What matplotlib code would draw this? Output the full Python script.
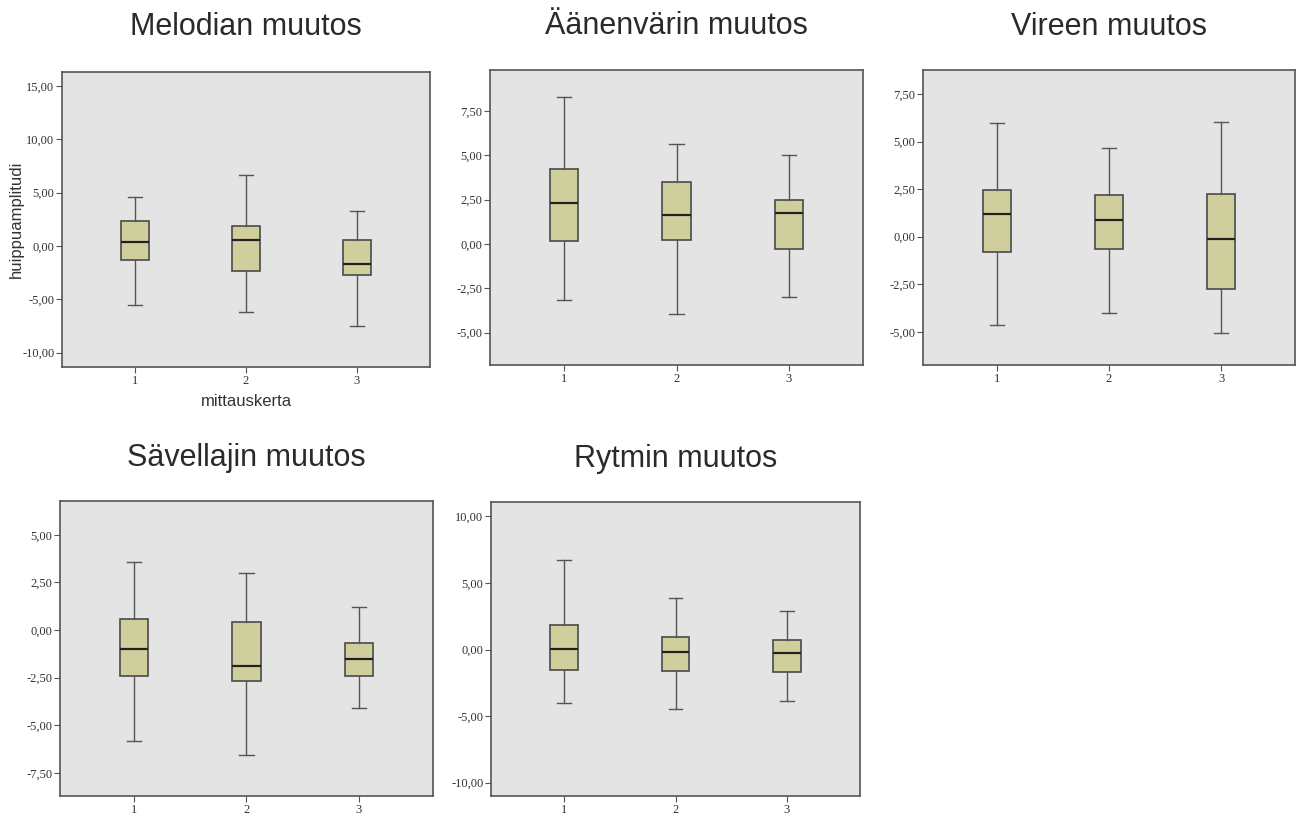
import matplotlib.pyplot as plt
from matplotlib.ticker import FuncFormatter

# Tunnusluvut luettu kuvasta: alaviiksi, Q1, mediaani, Q3, yläviiksi
titles = ["Melodian muutos", "Äänenvärin muutos", "Vireen muutos",
          "Sävellajin muutos", "Rytmin muutos"]
kerrat = [1, 2, 3]

melodia = [[-5.56, -1.34, 0.34, 2.38, 4.63],
           [-6.16, -2.34, 0.56, 1.88, 6.66],
           [-7.47, -2.75, -1.66, 0.53, 3.25]]
aanenvari = [[-3.16, 0.15, 2.33, 4.23, 8.31],
             [-3.97, 0.21, 1.64, 3.48, 5.62],
             [-2.99, -0.30, 1.73, 2.46, 5.00]]
vire = [[-4.64, -0.82, 1.21, 2.47, 5.97],
        [-4.03, -0.63, 0.86, 2.19, 4.64],
        [-5.04, -2.75, -0.10, 2.26, 6.02]]
savellaji = [[-5.81, -2.43, -1.02, 0.56, 3.56],
             [-6.58, -2.70, -1.89, 0.42, 2.99],
             [-4.12, -2.40, -1.51, -0.70, 1.19]]
rytmi = [[-4.00, -1.55, 0.05, 1.83, 6.70],
         [-4.43, -1.58, -0.15, 0.95, 3.90],
         [-3.83, -1.70, -0.25, 0.68, 2.88]]
data = [melodia, aanenvari, vire, savellaji, rytmi]

yticks = [[-10, -5, 0, 5, 10, 15],
          [-5, -2.5, 0, 2.5, 5, 7.5],
          [-5, -2.5, 0, 2.5, 5, 7.5],
          [-7.5, -5, -2.5, 0, 2.5, 5],
          [-10, -5, 0, 5, 10]]
ylims = [(-11.35, 16.3), (-6.82, 9.81), (-6.74, 8.76), (-8.72, 6.78), (-11.0, 11.08)]

# akselien paikat pikseleinä (vasen, oikea, ylä, ala)
W, H = 1298, 816
boxes_px = [(62, 430, 72, 367), (490, 863, 70, 365), (923, 1295, 70, 365),
            (60, 433, 501, 796), (491, 860, 502, 796)]
pads = [26.5, 26, 25, 25, 25.5]

fig = plt.figure(figsize=(12.98, 8.16), dpi=100)
fig.patch.set_facecolor('white')

fmt = FuncFormatter(lambda v, p: f"{v:.2f}".replace('.', ','))

for i, (l, r, t, b) in enumerate(boxes_px):
    ax = fig.add_axes([l / W, (H - b) / H, (r - l) / W, (b - t) / H])
    ax.set_facecolor('#e4e4e4')
    stats = []
    for k, v in zip(kerrat, data[i]):
        stats.append({'whislo': v[0], 'q1': v[1], 'med': v[2], 'q3': v[3],
                      'whishi': v[4], 'fliers': [], 'label': str(k)})
    ax.bxp(stats, positions=kerrat, widths=0.25, patch_artist=True,
           showfliers=False,
           boxprops=dict(facecolor='#cfcf9d', edgecolor='#4a4a4a', linewidth=1.2),
           medianprops=dict(color='#222222', linewidth=1.6),
           whiskerprops=dict(color='#555555', linewidth=1.0),
           capprops=dict(color='#555555', linewidth=1.0))
    ax.set_xlim(0.34, 3.66)
    ax.set_ylim(*ylims[i])
    ax.set_yticks(yticks[i])
    ax.yaxis.set_major_formatter(fmt)
    ax.set_xticks(kerrat)
    ax.set_xticklabels([str(k) for k in kerrat])
    for lab in ax.get_xticklabels() + ax.get_yticklabels():
        lab.set_fontfamily('Liberation Serif')
        lab.set_fontsize(9)
        lab.set_color('#333333')
    ax.tick_params(direction='out', length=4, width=0.8, color='#555555', pad=1.5)
    ax.tick_params(top=False, right=False)
    for s in ax.spines.values():
        s.set_color('#555555')
        s.set_linewidth(1.2)
    ax.set_title(titles[i], fontsize=22, family='Liberation Sans',
                 color='#2a2a2a', pad=pads[i])
    if i == 0:
        ax.set_ylabel('huippuamplitudi', fontsize=12, family='Liberation Sans',
                      color='#333333', labelpad=-1)
        ax.set_xlabel('mittauskerta', fontsize=12, family='Liberation Sans',
                      color='#333333', labelpad=5)

plt.savefig("out.png", dpi=100)
